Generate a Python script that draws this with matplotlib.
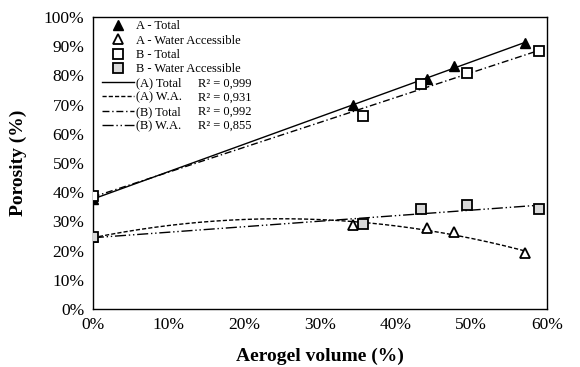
import numpy as np
import matplotlib.pyplot as plt
from matplotlib.lines import Line2D
from matplotlib.ticker import FuncFormatter

plt.rcParams['font.family'] = ['Liberation Serif', 'DejaVu Serif']

# aerogel volume (%) and porosity (%)
a_x = [0.0, 34.4, 44.1, 47.7, 57.1]
a_total = [37.6, 69.8, 78.8, 83.2, 90.9]
a_wa = [24.5, 28.8, 27.6, 26.5, 19.1]

b_x = [0.0, 35.7, 43.4, 49.4, 59.0]
b_total = [38.8, 66.1, 77.1, 80.9, 88.4]
b_wa = [24.5, 29.1, 34.1, 35.6, 34.1]

r2 = ['0,999', '0,931', '0,992', '0,855']

fig = plt.figure(figsize=(5.8, 3.67), dpi=100)
ax = fig.add_axes([0.160, 0.158, 0.783, 0.796])

# trendlines
xa = np.linspace(0, max(a_x), 200)
xb = np.linspace(0, max(b_x), 200)
ax.plot(xa, np.polyval(np.polyfit(a_x, a_total, 1), xa), color='black', lw=1.0, ls='-', zorder=2)
ax.plot(xa, np.polyval(np.polyfit(a_x, a_wa, 2), xa), color='black', lw=1.0, ls=(0, (3, 1.5)), zorder=2)
ax.plot(xb, np.polyval(np.polyfit(b_x, b_total, 1), xb), color='black', lw=1.0, ls=(0, (5, 2, 1, 2)), zorder=2)
ax.plot(xb, np.polyval(np.polyfit(b_x, b_wa, 1), xb), color='black', lw=1.0, ls=(0, (8, 2, 1, 2, 1, 2)), zorder=2)

# data points
ax.plot(a_x, a_total, ls='none', marker='^', ms=7, mfc='black', mec='black', zorder=3)
ax.plot(a_x, a_wa, ls='none', marker='^', ms=7, mfc='white', mec='black', mew=1.3, zorder=3)
ax.plot(b_x, b_total, ls='none', marker='s', ms=7.5, mfc='white', mec='black', mew=1.3, zorder=4)
ax.plot(b_x, b_wa, ls='none', marker='s', ms=7.5, mfc='#d9d9d9', mec='black', mew=1.3, zorder=4)

ax.set_xlim(0, 60)
ax.set_ylim(0, 100)
ax.set_xticks(np.arange(0, 61, 10))
ax.set_yticks(np.arange(0, 101, 10))
pct = FuncFormatter(lambda v, p: '%d%%' % v)
ax.xaxis.set_major_formatter(pct)
ax.yaxis.set_major_formatter(pct)
ax.tick_params(length=0, labelsize=12.5, pad=6)
for s in ax.spines.values():
    s.set_linewidth(1.0)
ax.set_xlabel('Aerogel volume (%)', fontsize=14, fontweight='bold', labelpad=10)
ax.set_ylabel('Porosity (%)', fontsize=14, fontweight='bold', labelpad=12)

handles = [
    Line2D([], [], ls='none', marker='^', ms=7, mfc='black', mec='black'),
    Line2D([], [], ls='none', marker='^', ms=7, mfc='white', mec='black', mew=1.3),
    Line2D([], [], ls='none', marker='s', ms=7, mfc='white', mec='black', mew=1.3),
    Line2D([], [], ls='none', marker='s', ms=7, mfc='#d9d9d9', mec='black', mew=1.3),
    Line2D([], [], color='black', lw=1.0, ls='-'),
    Line2D([], [], color='black', lw=1.0, ls=(0, (3, 1.5))),
    Line2D([], [], color='black', lw=1.0, ls=(0, (5, 2, 1, 2))),
    Line2D([], [], color='black', lw=1.0, ls=(0, (8, 2, 1, 2, 1, 2))),
]
labels = ['A - Total', 'A - Water Accessible', 'B - Total', 'B - Water Accessible',
          '(A) Total', '(A) W.A.', '(B) Total', '(B) W.A.']
leg = ax.legend(handles, labels, loc='upper left', bbox_to_anchor=(0.02, 0.988), frameon=False,
                fontsize=9, labelspacing=0.18, handlelength=2.6, handletextpad=0.15,
                borderaxespad=0, borderpad=0)

fig.canvas.draw()
inv = ax.transAxes.inverted()
for t, r in zip(leg.get_texts()[4:], r2):
    bb = t.get_window_extent()
    xy = inv.transform((bb.x0, (bb.y0 + bb.y1) / 2))
    ax.text(0.231, xy[1], 'R² = ' + r, transform=ax.transAxes, fontsize=9, va='center')

fig.savefig('out.png', dpi=100)
